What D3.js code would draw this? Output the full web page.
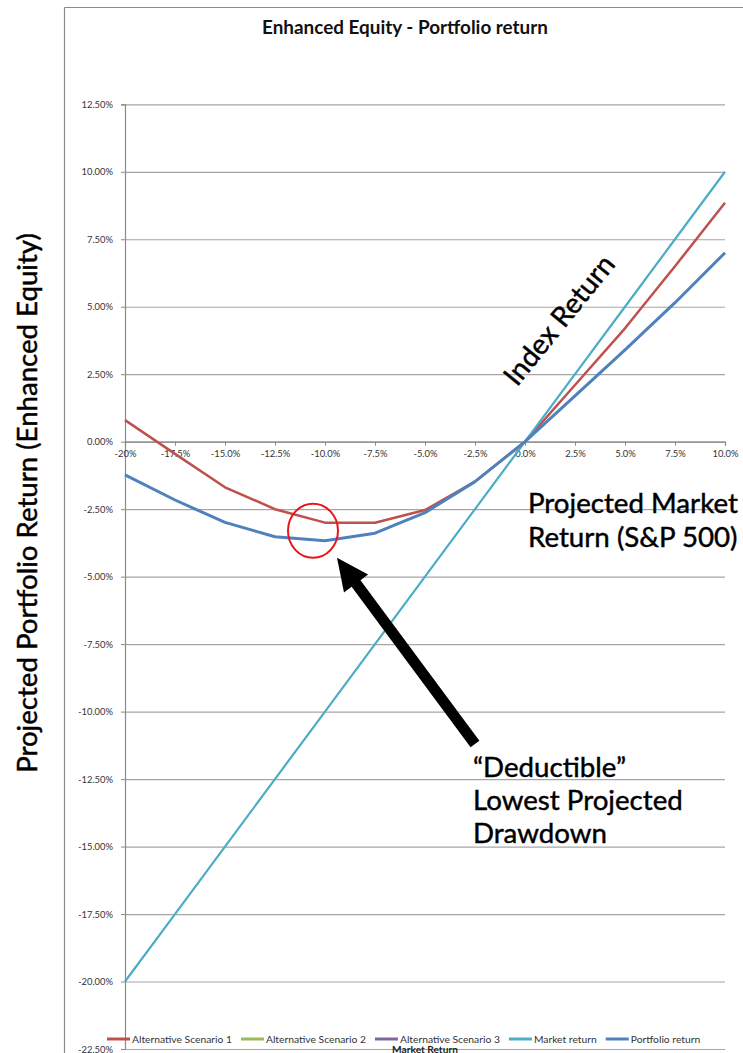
<!DOCTYPE html>
<html><head><meta charset="utf-8">
<script src="https://cdn.jsdelivr.net/npm/d3@7/dist/d3.min.js"></script>
<style>
html,body{margin:0;padding:0;background:#fff;}
svg{display:block;}
text{font-family:Lato,"Open Sans",sans-serif;}
</style></head>
<body>
<svg id="c" width="743" height="1053"></svg>
<script>
// ---------- data ----------
const marketX = [-20,-17.5,-15,-12.5,-10,-7.5,-5,-2.5,0,2.5,5,7.5,10];
const altScenario1 = [0.80,-0.45,-1.69,-2.50,-3.00,-3.00,-2.53,-1.48,0,2.10,4.20,6.50,8.85];
const altScenario2 = [];
const altScenario3 = [];
const marketReturn = [-20,-17.5,-15,-12.5,-10,-7.5,-5,-2.5,0,2.5,5,7.5,10];
const portfolioReturn = [-1.23,-2.16,-2.99,-3.52,-3.67,-3.39,-2.63,-1.48,0,1.70,3.40,5.15,7.00];
const xTickLabels = ["-20%","-17.5%","-15.0%","-12.5%","-10.0%","-7.5%","-5.0%","-2.5%","0.0%","2.5%","5.0%","7.5%","10.0%"];
const yTicks = [12.5,10,7.5,5,2.5,0,-2.5,-5,-7.5,-10,-12.5,-15,-17.5,-20,-22.5];
const yTickLabels = ["12.50%","10.00%","7.50%","5.00%","2.50%","0.00%","-2.50%","-5.00%","-7.50%","-10.00%","-12.50%","-15.00%","-17.50%","-20.00%","-22.50%"];
const seriesNames = ["Alternative Scenario 1","Alternative Scenario 2","Alternative Scenario 3","Market return","Portfolio return"];
const seriesColors = ["#C0504D","#9BBB59","#8064A2","#4BACC6","#4F81BD"];

// ---------- helpers ----------
const svg = d3.select("#c");
function fitSize(sel, base, target){
  sel.attr("font-size", base);
  const w = sel.node().getComputedTextLength();
  const s = base*target/w;
  sel.attr("font-size", s);
  return s;
}
function measure(str, size, weight){
  const t = svg.append("text").attr("font-size",size).attr("font-weight",weight||"normal").text(str);
  const w = t.node().getComputedTextLength(); t.remove(); return w;
}
const tickFont = 9*31.5/measure("12.50%",9);
const legendFont = 9*100/measure("Alternative Scenario 1",9);

// ---------- layout ----------
const x = d3.scaleLinear().domain([-20,10]).range([125,725]);
const y = d3.scaleLinear().domain([-22.5,12.5]).range([1049,104.3]);

// chart frame
svg.append("line").attr("x1",64.5).attr("x2",743).attr("y1",7.5).attr("y2",7.5).attr("stroke","#8a8a8a").attr("stroke-width",1.2);
svg.append("line").attr("x1",64.5).attr("x2",64.5).attr("y1",7.5).attr("y2",1053).attr("stroke","#8a8a8a").attr("stroke-width",1.2);

// title
const title = svg.append("text").attr("x",405).attr("y",34).attr("text-anchor","middle")
  .attr("font-weight","bold").attr("fill","#111").text("Enhanced Equity - Portfolio return");
fitSize(title, 14, 286);

// gridlines
const grid = svg.append("g").attr("transform","translate(125,0)")
  .call(d3.axisLeft(y).tickValues(yTicks).tickSize(-600).tickFormat(""));
grid.select(".domain").remove();
grid.selectAll(".tick line").attr("stroke","#a6a6a6").attr("stroke-width",1.2);

// y axis
const yAx = svg.append("g").attr("transform","translate(125,0)")
  .call(d3.axisLeft(y).tickValues(yTicks).tickSize(4).tickPadding(8).tickFormat((d,i)=>yTickLabels[i]));
yAx.select(".domain").attr("stroke","#8a8a8a").attr("stroke-width",1.2);
yAx.selectAll(".tick line").attr("stroke","#8a8a8a");
yAx.selectAll(".tick text").attr("font-family","Lato").attr("font-size",tickFont).attr("fill","#333");

// x axis at 0
const xAx = svg.append("g").attr("transform",`translate(0,${y(0)})`)
  .call(d3.axisBottom(x).tickValues(marketX).tickSize(4).tickPadding(5).tickFormat((d,i)=>xTickLabels[i]));
xAx.select(".domain").attr("stroke","#8a8a8a").attr("stroke-width",1.2);
xAx.selectAll(".tick line").attr("stroke","#8a8a8a");
xAx.selectAll(".tick text").attr("font-family","Lato").attr("font-size",tickFont).attr("fill","#333");

// series lines
const line = d3.line().x((d,i)=>x(marketX[i])).y(d=>y(d));
const drawSeries = [
  {vals:altScenario1, color:seriesColors[0], w:2.5},
  {vals:altScenario2, color:seriesColors[1], w:2.5},
  {vals:altScenario3, color:seriesColors[2], w:2.5},
  {vals:marketReturn, color:seriesColors[3], w:2.2},
  {vals:portfolioReturn, color:seriesColors[4], w:3}
];
drawSeries.forEach(s=>{
  if(!s.vals.length) return;
  svg.append("path").datum(s.vals).attr("d",line).attr("fill","none")
    .attr("stroke",s.color).attr("stroke-width",s.w).attr("stroke-linejoin","round");
});

// legend
let lx = 107;
const ly = 1039;
seriesNames.forEach((n,i)=>{
  svg.append("line").attr("x1",lx).attr("x2",lx+23).attr("y1",ly).attr("y2",ly)
    .attr("stroke",seriesColors[i]).attr("stroke-width",3);
  const t = svg.append("text").attr("x",lx+25).attr("y",ly+3.5).attr("font-size",legendFont).attr("fill","#333").text(n);
  lx += 25 + t.node().getComputedTextLength() + 9;
});
const mr = svg.append("text").attr("x",425).attr("y",1053).attr("text-anchor","middle")
  .attr("font-weight","bold").attr("fill","#222").text("Market Return");
fitSize(mr, 10, 66);

// annotations
const annStroke = t => t.attr("fill","#000").attr("stroke","#000").attr("stroke-width",0.45);
// y-axis title
const yt = svg.append("text").attr("transform","translate(37,503) rotate(-90)").attr("text-anchor","middle")
  .text("Projected Portfolio Return (Enhanced Equity)");
annStroke(yt); fitSize(yt, 26, 540);

// Index Return
const ir = svg.append("text").attr("transform","translate(517,387.5) rotate(-51)").text("Index Return");
annStroke(ir); fitSize(ir, 26, 158);

// Projected Market Return
const pm = svg.append("text");
annStroke(pm);
pm.append("tspan").attr("x",528).attr("y",513).text("Projected Market");
pm.append("tspan").attr("x",528).attr("y",547).text("Return (S&P 500)");
pm.attr("font-size",26);
const pmw = pm.select("tspan").node().getComputedTextLength();
const annSize = 26*210/pmw;
pm.attr("font-size",annSize);

// Deductible
const dd = svg.append("text").attr("font-size",annSize);
annStroke(dd);
dd.append("tspan").attr("x",473).attr("y",777).text("\u201CDeductible\u201D");
dd.append("tspan").attr("x",473).attr("y",810).text("Lowest Projected");
dd.append("tspan").attr("x",473).attr("y",843).text("Drawdown");

// red circle
svg.append("ellipse").attr("cx",x(-10.6)).attr("cy",y(-3.3)).attr("rx",25).attr("ry",27)
  .attr("fill","none").attr("stroke","#e8141a").attr("stroke-width",2);

// arrow
const tail = [x(-2.5), y(-11.2)];
const tip = [x(-9.4), y(-4.3)];
const dx = tip[0]-tail[0], dy = tip[1]-tail[1];
const L = Math.hypot(dx,dy), ux = dx/L, uy = dy/L, px = -uy, py = ux;
const headLen = 32, headHalf = 15, shaftHalf = 5.5;
const bx = tip[0]-ux*headLen, by = tip[1]-uy*headLen;
const pts = [
  [tail[0]+px*shaftHalf, tail[1]+py*shaftHalf],
  [bx+px*shaftHalf, by+py*shaftHalf],
  [bx+px*headHalf, by+py*headHalf],
  tip,
  [bx-px*headHalf, by-py*headHalf],
  [bx-px*shaftHalf, by-py*shaftHalf],
  [tail[0]-px*shaftHalf, tail[1]-py*shaftHalf]
];
svg.append("path").attr("d","M"+pts.map(p=>p.join(",")).join("L")+"Z").attr("fill","#000");
</script>
</body></html>
